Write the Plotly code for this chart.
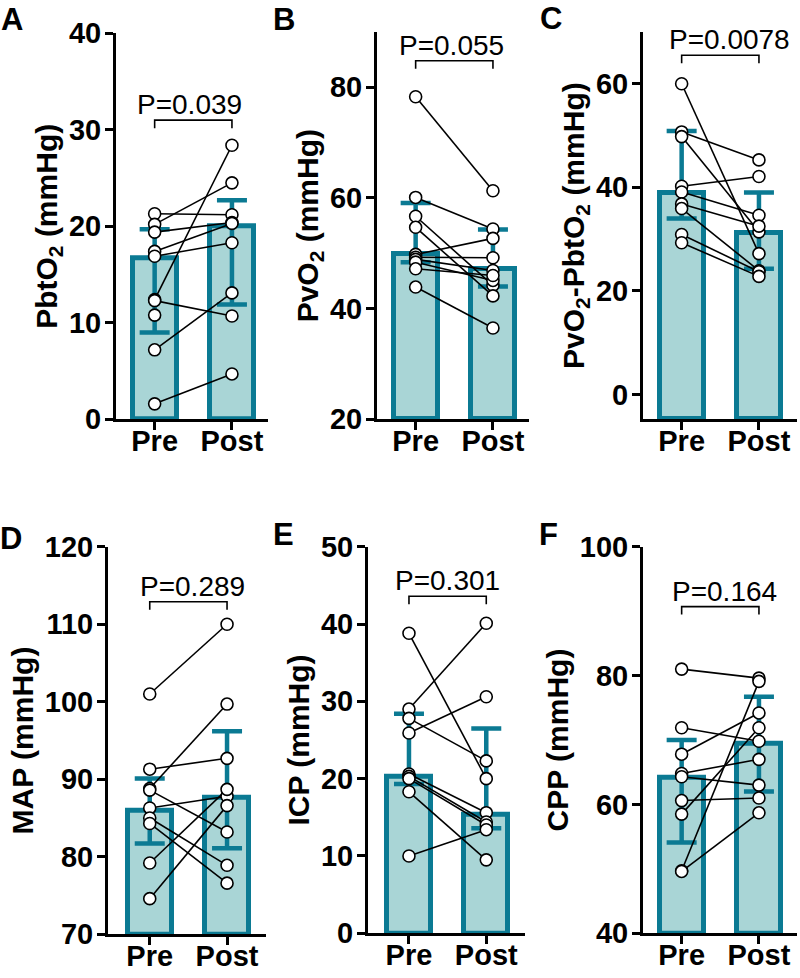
import plotly.graph_objects as go

# ── data ────────────────────────────────────────────────────
groups = ['Pre', 'Post']

pbto2_pre = [21.3, 20.2, 19.4, 17.4, 16.9, 12.4, 12.3, 10.8, 7.2, 1.6]
pbto2_post = [21.2, 24.5, 20.4, 20.3, 18.3, 28.4, 10.7, None, 13.1, 4.7]
pbto2_bar = [16.7, 20.0]
pbto2_hi = [19.7, 22.7]
pbto2_lo = [9.0, 11.9]

pvo2_pre = [78.3, 60.1, 56.7, 54.7, 49.8, 49.3, 48.9, 48.4, 47.2, 43.9]
pvo2_post = [61.3, 54.4, 44.2, 42.3, 52.7, 49.2, 46.9, 45.1, 46.0, 36.5]
pvo2_bar = [49.8, 47.1]
pvo2_hi = [59.1, 54.3]
pvo2_lo = [48.4, 44.0]

diff_pre = [60.0, 50.7, 49.8, 40.2, 39.1, 36.8, 35.9, 30.9, 29.3]
diff_post = [27.2, 45.3, 31.4, 42.1, 34.6, 32.5, 23.9, 23.7, 22.8]
diff_bar = [38.9, 31.1]
diff_hi = [50.9, 39.0]
diff_lo = [34.0, 24.3]

map_pre = [101.0, 91.3, 88.8, 88.6, 86.3, 85.0, 84.3, 79.2, 74.6]
map_post = [110.0, 92.7, 99.7, 83.2, 87.8, 78.9, 76.6, 88.7, 86.6]
map_bar = [85.9, 87.6]
map_hi = [90.1, 96.2]
map_lo = [81.7, 81.1]

icp_pre = [38.8, 29.0, 27.8, 25.9, 20.6, 20.3, 20.0, 18.3, 10.0]
icp_post = [20.0, 40.1, 22.3, 30.6, 15.6, 14.4, 14.0, 9.5, 13.4]
icp_bar = [20.3, 15.4]
icp_hi = [28.4, 26.5]
icp_lo = [19.3, 13.6]

cpp_pre = [81.0, 71.9, 67.8, 64.8, 64.3, 60.6, 58.5, 49.7, 49.6]
cpp_post = [79.6, 69.8, 74.2, 67.0, 63.0, 61.0, 71.9, 79.1, 58.7]
cpp_bar = [64.1, 69.5]
cpp_hi = [70.0, 76.7]
cpp_lo = [54.1, 62.0]

p_values = ['P=0.039', 'P=0.055', 'P=0.0078', 'P=0.289', 'P=0.301', 'P=0.164']

# ── styling / layout ────────────────────────────────────────
W, H = 800, 978
TEAL = '#0b7a93'
FILL = '#a9d5d6'
FONT = 'Arial, Liberation Sans, sans-serif'
PX_PER_CAT = 77.3

panels = [
    dict(letter='A', title='PbtO<sub>2</sub> (mmHg)', pre=pbto2_pre, post=pbto2_post,
         bar=pbto2_bar, hi=pbto2_hi, lo=pbto2_lo, yr=[0, 40], dt=10,
         x0=116, top=33.3, bot=419.3, xr=[-0.5, 1.46], br=31.0, tx=0.45, lx=12, ly=0),
    dict(letter='B', title='PvO<sub>2</sub> (mmHg)', pre=pvo2_pre, post=pvo2_post,
         bar=pvo2_bar, hi=pvo2_hi, lo=pvo2_lo, yr=[20, 90], dt=20,
         x0=377, top=32, bot=419.3, xr=[-0.5, 1.46], br=84.8, tx=0.47, lx=284, ly=0),
    dict(letter='C', title='PvO<sub>2</sub>-PbtO<sub>2</sub> (mmHg)', pre=diff_pre, post=diff_post,
         bar=diff_bar, hi=diff_hi, lo=diff_lo, yr=[-4.8, 70], dt=20, t0=0,
         x0=643, top=32, bot=419.3, xr=[-0.5, 1.49], br=65.5, tx=0.62, lx=551, ly=-1),
    dict(letter='D', title='MAP (mmHg)', pre=map_pre, post=map_post,
         bar=map_bar, hi=map_hi, lo=map_lo, yr=[70, 120], dt=10,
         x0=108, top=546.7, bot=934.3, xr=[-0.54, 1.5], br=112.9, tx=0.55, lx=11, ly=519),
    dict(letter='E', title='ICP (mmHg)', pre=icp_pre, post=icp_post,
         bar=icp_bar, hi=icp_hi, lo=icp_lo, yr=[0, 50], dt=10,
         x0=368, top=546.7, bot=933.3, xr=[-0.53, 1.5], br=43.6, tx=0.5, lx=283, ly=515),
    dict(letter='F', title='CPP (mmHg)', pre=cpp_pre, post=cpp_post,
         bar=cpp_bar, hi=cpp_hi, lo=cpp_lo, yr=[40, 100], dt=20,
         x0=643, top=546.7, bot=933.3, xr=[-0.5, 1.49], br=90.7, tx=0.55, lx=548, ly=515),
]

fig = go.Figure()
layout = dict(
    width=W, height=H,
    margin=dict(l=0, r=0, t=0, b=0),
    paper_bgcolor='white', plot_bgcolor='white',
    showlegend=False,
    font=dict(family=FONT, color='black'),
    annotations=[], shapes=[],
    bargap=0,
)

for i, p in enumerate(panels):
    k = '' if i == 0 else str(i + 1)
    xa, ya = 'x' + k, 'y' + k
    x1 = p['x0'] + (p['xr'][1] - p['xr'][0]) * PX_PER_CAT
    lo_y, hi_y = p['yr']
    t0 = p.get('t0', lo_y)
    tickvals = list(range(int(t0), int(hi_y) + 1, p['dt']))

    layout['xaxis' + k] = dict(
        domain=[p['x0'] / W, x1 / W], anchor=ya, range=p['xr'],
        tickvals=[0, 1], ticktext=groups, automargin=False,
        showline=True, linewidth=3, linecolor='black',
        ticks='outside', ticklen=8, tickwidth=3, tickcolor='black',
        ticklabelstandoff=-14,
        tickfont=dict(family=FONT, size=29, weight='bold', color='black'),
        showgrid=False, zeroline=False, fixedrange=True,
    )
    layout['yaxis' + k] = dict(
        domain=[1 - p['bot'] / H, 1 - p['top'] / H], anchor=xa, range=p['yr'],
        tickvals=tickvals, automargin=False,
        showline=True, linewidth=3, linecolor='black',
        ticks='outside', ticklen=8, tickwidth=3, tickcolor='black',
        ticklabelstandoff=-2,
        tickfont=dict(family=FONT, size=29, weight='bold', color='black'),
        title=dict(text=p['title'], standoff=3,
                   font=dict(family=FONT, size=30, weight='bold', color='black')),
        showgrid=False, zeroline=False, fixedrange=True,
    )

    # bars (from axis floor)
    fig.add_trace(go.Bar(
        x=[0, 1], y=[v - lo_y for v in p['bar']], base=lo_y, width=0.57,
        marker=dict(color=FILL, line=dict(color=TEAL, width=5)),
        xaxis=xa, yaxis=ya, hoverinfo='skip',
    ))
    # error bars
    fig.add_trace(go.Scatter(
        x=[0, 1], y=p['bar'], mode='markers',
        marker=dict(size=1, opacity=0),
        error_y=dict(type='data', symmetric=False,
                     array=[h - b for h, b in zip(p['hi'], p['bar'])],
                     arrayminus=[b - l for l, b in zip(p['lo'], p['bar'])],
                     color=TEAL, thickness=4.5, width=15),
        xaxis=xa, yaxis=ya, hoverinfo='skip',
    ))
    # paired lines
    lx, ly = [], []
    for a, b in zip(p['pre'], p['post']):
        if a is None or b is None:
            continue
        lx += [0, 1, None]
        ly += [a, b, None]
    fig.add_trace(go.Scatter(
        x=lx, y=ly, mode='lines', line=dict(color='black', width=1.6),
        xaxis=xa, yaxis=ya, hoverinfo='skip',
    ))
    # individual points
    px = [0] * len(p['pre']) + [1] * len(p['post'])
    py = list(p['pre']) + list(p['post'])
    fig.add_trace(go.Scatter(
        x=px, y=py, mode='markers',
        marker=dict(size=12, color='white', line=dict(color='black', width=1.6)),
        xaxis=xa, yaxis=ya,
    ))

    # significance bracket
    drop = 8 * (hi_y - lo_y) / (p['bot'] - p['top'])
    br = p['br']
    layout['shapes'].append(dict(
        type='path', xref=xa, yref=ya,
        path=f'M 0,{br - drop} L 0,{br} L 1,{br} L 1,{br - drop}',
        line=dict(color='black', width=1.6),
    ))
    layout['annotations'].append(dict(
        x=p['tx'], y=br, xref=xa, yref=ya, text=p_values[i], showarrow=False,
        yanchor='bottom', yshift=-2,
        font=dict(family=FONT, size=28, color='black'),
    ))
    # panel letter
    layout['annotations'].append(dict(
        x=p['lx'] / W, y=1 - p['ly'] / H, xref='paper', yref='paper',
        text=p['letter'], showarrow=False, xanchor='center', yanchor='top',
        font=dict(family=FONT, size=31, weight='bold', color='black'),
    ))

fig.update_layout(**layout)
# page body has a default 8px margin; drop it so the figure sits at 0,0
fig.write_html('out.html', config={'displayModeBar': False},
               post_script="document.body.style.margin='0px';")
